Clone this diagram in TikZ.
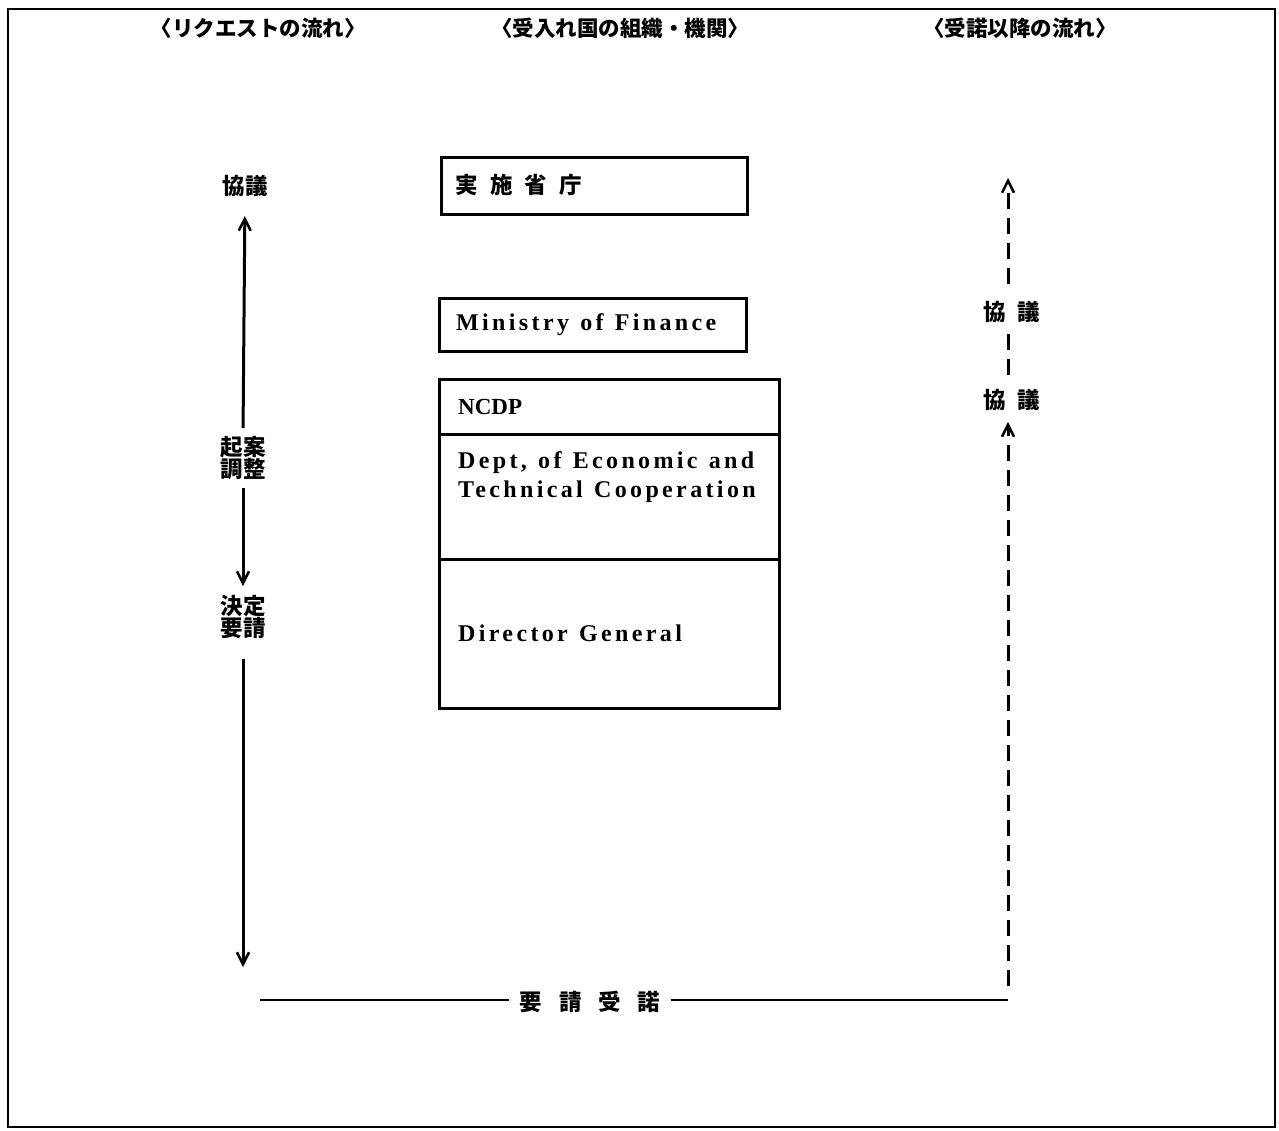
\documentclass[tikz,border=0pt]{standalone}
\usepackage{fontspec}
\usetikzlibrary{arrows.meta}
\newfontfamily\jp{Noto Sans CJK JP}
\newfontfamily\en[LetterSpace=14,WordSpace=1.2]{Liberation Serif}
\newfontfamily\enplain{Liberation Serif}
\tikzset{
  frame/.style={line width=2.5pt},
  box/.style={draw, line width=2.5pt, rectangle, inner sep=0pt, anchor=north west},
  jptext/.style={inner sep=0pt, font=\jp\bfseries\fontsize{22.5}{25}\selectfont, align=center},
  hdr/.style={inner sep=0pt, font=\jp\bfseries\fontsize{21.5}{24}\selectfont},
  entext/.style={inner sep=0pt, anchor=west, font=\en\bfseries\fontsize{24}{29}\selectfont, align=left},
  solidarr/.style={line width=3pt, -{Straight Barb[length=12pt,width=12pt,line width=2.5pt]}},
  dasharr/.style={line width=3pt, dash pattern=on 16pt off 9pt, -{Straight Barb[length=12pt,width=12pt,line width=2.5pt]}},
  dashline/.style={line width=3pt, dash pattern=on 16pt off 9pt},
  botline/.style={line width=2pt}
}
\begin{document}
\begin{tikzpicture}[x=1pt,y=-1pt]
\useasboundingbox (0,0) rectangle (1279,1130);
\fill[white] (0,0) rectangle (1279,1130);
\draw[frame] (8,9) rectangle (1275,1127);

% headers
\node[hdr] (h1) at (258,28) {〈リクエストの流れ〉};
\node[hdr] (h2) at (620,28) {〈受入れ国の組織・機関〉};
\node[hdr] (h3) at (1020,28) {〈受諾以降の流れ〉};

% boxes
\node[box, minimum width=306pt, minimum height=57pt] (jisshi) at (440,156) {};
\node[jptext, anchor=west] (jisshiT) at (455,185) {実\hspace{0.55em}施\hspace{0.55em}省\hspace{0.55em}庁};

\node[box, minimum width=307pt, minimum height=53pt] (mof) at (438,297) {};
\node[entext] (mofT) at (456,325) {Ministry of Finance};

\node[box, minimum width=340pt, minimum height=55pt] (ncdp) at (438,378) {};
\node[box, minimum width=340pt, minimum height=125pt] (dept) at (438,433) {};
\node[box, minimum width=340pt, minimum height=149pt] (dg) at (438,558) {};
\node[inner sep=0pt, anchor=west, font=\enplain\bfseries\fontsize{23}{26}\selectfont] (ncdpT) at (458,407) {NCDP};
\node[entext, anchor=north west] (deptT) at (458,451) {Dept, of Economic and\\Technical Cooperation};
\node[entext] (dgT) at (458,633) {Director General};

% left column
\node[jptext] (kyogiL) at (245,186) {協議};
\node[jptext] (kian) at (243,458) {起案\\[-3pt]調整};
\node[jptext] (kettei) at (243,617) {決定\\[-3pt]要請};
\coordinate (Lbot) at (243,967);

\draw[solidarr, shorten <=8pt, shorten >=19pt] (kian.north) -- (kyogiL.south);
\draw[solidarr, shorten <=8pt, shorten >=9pt] (kian.south) -- (kettei.north);
\draw[solidarr, shorten <=20pt] (kettei.south) -- (Lbot);

% right column
\node[jptext] (kyogiR1) at (1012,312) {協\hspace{0.5em}議};
\node[jptext] (kyogiR2) at (1012,400) {協\hspace{0.5em}議};
\coordinate (Rtop) at (1008,178);
\coordinate (Rbot) at (1008,986);
\draw[dasharr, shorten >=11pt] (Rbot) -- (kyogiR2.south -| Rbot);
\draw[dashline, shorten <=14pt, shorten >=6pt] (kyogiR2.north -| Rbot) -- (kyogiR1.south -| Rbot);
\draw[dasharr, shorten <=17pt] (kyogiR1.north -| Rbot) -- (Rtop);

% bottom
\node[jptext] (juchaku) at (590,1002) {要\hspace{0.75em}請\hspace{0.75em}受\hspace{0.75em}諾};
\coordinate (BL) at (260,1000);
\coordinate (BR) at (1008,1000);
\draw[botline, shorten >=10pt] (BL) -- (juchaku.west |- BL);
\draw[botline, shorten <=10pt] (juchaku.east |- BR) -- (BR);
\end{tikzpicture}
\end{document}
